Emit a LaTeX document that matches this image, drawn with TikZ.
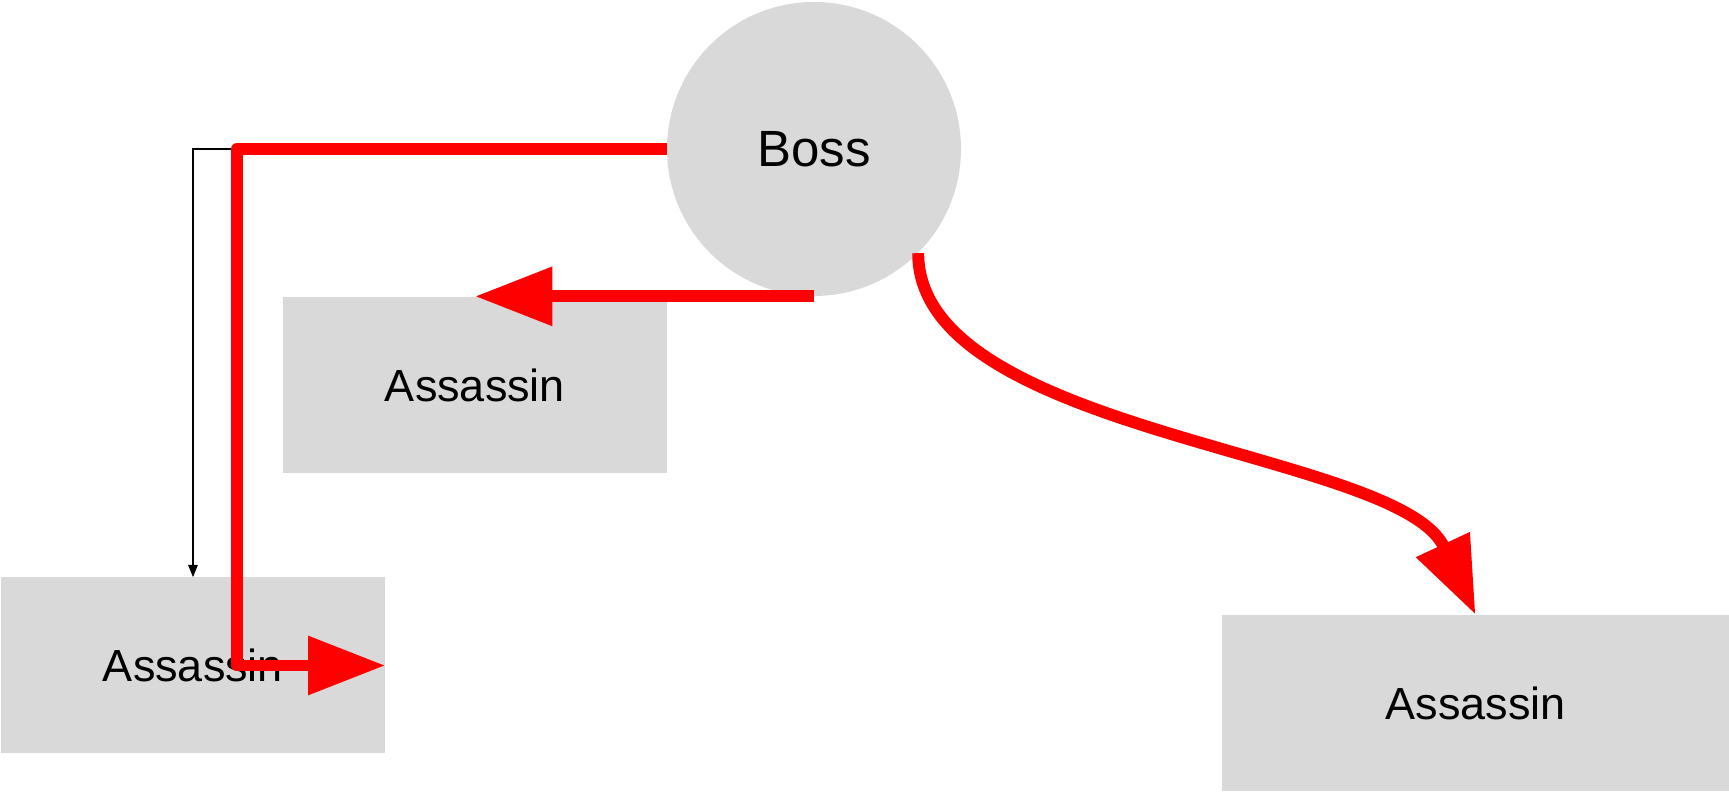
\documentclass[tikz,border=0pt]{standalone}
\usepackage{fontspec}
\setmainfont{Liberation Sans}
\usetikzlibrary{arrows.meta}
\definecolor{boxgray}{HTML}{D9D9D9}
\begin{document}
\begin{tikzpicture}[
        member/.style={rectangle, fill=boxgray, minimum width=7.68cm, minimum height=3.52cm, inner sep=0pt, font=\fontsize{25.6}{30}\selectfont},
        order/.style={red, line width=6.8pt, line join=round, -{Triangle[length=44pt, width=32pt]}},
    ]
        \useasboundingbox (0, 0) rectangle (34.58, 15.86);

        \node[circle, fill=boxgray, minimum size=5.88cm, inner sep=0pt, font=\fontsize{29}{34}\selectfont] (boss) at (16.28, 12.88) {Boss};
        \node[member] (killer1) at (9.50, 8.16) {Assassin};
        \node[member] (killer2) at (3.86, 2.55) {Assassin};
        \node[member, minimum width=10.14cm] (killer3) at (29.51, 1.80) {Assassin};
        \coordinate (turn) at (4.74, 12.88);

        \draw[black, line width=0.6pt, -{Triangle[length=7pt, width=5.5pt]}] (boss.west) -| (killer2.north);
        \draw[order] (boss.west) -- (turn) |- (killer2.east);
        \draw[order] (boss.south) -- (boss.south -| killer1.north);
        \draw[order] (boss.south east) to[out=-90, in=115, looseness=0.7] (killer3.north);

    \end{tikzpicture}
\end{document}
